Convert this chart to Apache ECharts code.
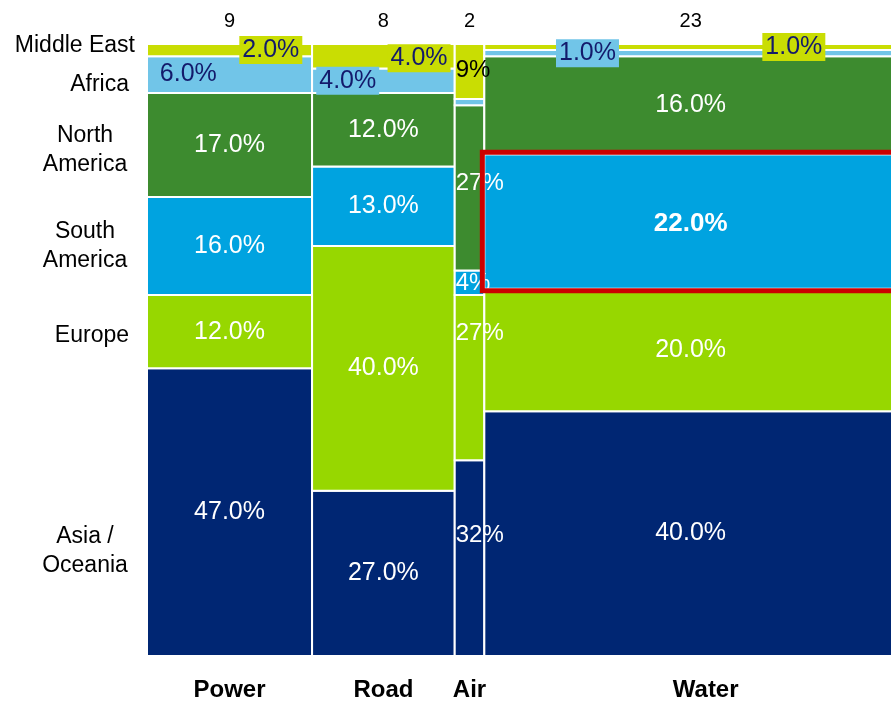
<!DOCTYPE html>
<html>
<head>
<meta charset="UTF-8">
<title>Regional split by sector</title>
<script src="https://cdn.jsdelivr.net/npm/echarts@6/dist/echarts.min.js"></script>
</head>
<body style="margin:0; background:#fff;">
<div id="main" style="width:891px; height:701px;"></div>
<script type="text/javascript">
// sectors (columns), their totals shown on top and the widths
var sectors = ['Power', 'Road', 'Air', 'Water'];
var sectorTotals = [9, 8, 2, 23];
var sectorWidths = [9.2, 7.95, 1.65, 23.0];

// regions, bottom to top
var regions = ['Asia /\nOceania', 'Europe', 'South\nAmerica', 'North\nAmerica', 'Africa', 'Middle East'];
var asiaOceania = [47, 27, 32, 40];
var europe = [12, 40, 27, 20];
var southAmerica = [16, 13, 4, 22];
var northAmerica = [17, 12, 27, 16];
var africa = [6, 4, 1, 1];
var middleEast = [2, 4, 9, 1];

var shares = [asiaOceania, europe, southAmerica, northAmerica, africa, middleEast];
var regionColors = ['#002673', '#97d700', '#00a3e0', '#3d8b2f', '#71c5e8', '#c9dd03'];
var FONT = 'Arial, "Liberation Sans", sans-serif';

// label nudges (px)
var airShift = [-23, -44, 1, -4, 0, -1];
var leftShift = [39, 4, 0, 5, 10, -4];
var bottomShift = [0, 0, 0, 15];

var colStart = [];
var acc = 0;
for (var s = 0; s < sectors.length; s++) {
	colStart.push(acc);
	acc += sectorWidths[s];
}
var totalWidth = acc;

var cells = [];
for (var s = 0; s < sectors.length; s++) {
	var base = 0;
	for (var r = 0; r < regions.length; r++) {
		var v = shares[r][s];
		cells.push([colStart[s], colStart[s] + sectorWidths[s], base, base + v, r, s]);
		base += v;
	}
}

var sectorItems = [];
for (var s = 0; s < sectors.length; s++) {
	sectorItems.push([colStart[s], colStart[s] + sectorWidths[s], sectorTotals[s], s]);
}

var regionItems = [];
var b = 0;
for (var r = 0; r < regions.length; r++) {
	regionItems.push([0, b + shares[r][0] / 2, r]);
	b += shares[r][0];
}

function renderCell(params, api) {
	var x0 = api.value(0), x1 = api.value(1), y0 = api.value(2), y1 = api.value(3);
	var r = api.value(4), s = api.value(5);
	var p0 = api.coord([x0, y1]);
	var p1 = api.coord([x1, y0]);
	var w = p1[0] - p0[0], h = p1[1] - p0[1];
	var children = [{
		type : 'rect',
		z2 : 0,
		shape : { x : p0[0], y : p0[1], width : w, height : h },
		style : { fill : regionColors[r], stroke : '#fff', lineWidth : 2 }
	}];
	var v = shares[r][s];
	var isAir = sectors[s] === 'Air';
	var txt = isAir ? v + '%' : v.toFixed(1) + '%';
	var cy = p0[1] + h / 2;
	if (isAir) {
		if (r !== 4) {
			children.push({
				type : 'text', z2 : 100,
				x : p0[0] + 1, y : cy + airShift[r],
				style : { text : txt, fill : r === 5 ? '#000' : '#fff', font : '24px ' + FONT,
					align : 'left', verticalAlign : 'middle' }
			});
		}
	} else if (r >= 4) {
		children.push({
			type : 'text', z2 : 100,
			x : p0[0] + w * (r === 5 ? 0.75 : 0.25), y : cy + (r === 5 && s === 1 ? 2 : 0),
			style : { text : txt, fill : '#131a6b', font : '25px ' + FONT,
				align : 'center', verticalAlign : 'middle',
				backgroundColor : regionColors[r], padding : [2, 3, 1, 3] }
		});
	} else {
		var hl = (s === 3 && r === 2);
		children.push({
			type : 'text', z2 : 100,
			x : p0[0] + w / 2, y : cy + (hl ? 2 : 0),
			style : { text : txt, fill : '#fff', font : (hl ? 'bold 26px ' : '25px ') + FONT,
				align : 'center', verticalAlign : 'middle' }
		});
	}
	if (s === 3 && r === 2) {
		children.push({
			type : 'rect', z2 : 200,
			shape : { x : p0[0] - 2, y : p0[1] - 2, width : w + 4, height : h + 4 },
			style : { fill : 'none', stroke : '#cc0000', lineWidth : 5 }
		});
	}
	return { type : 'group', children : children };
}

function renderSector(params, api) {
	var mid = (api.value(0) + api.value(1)) / 2;
	var top = api.coord([mid, 100]);
	var bot = api.coord([mid, 0]);
	var s = api.value(3);
	return {
		type : 'group',
		children : [{
			type : 'text',
			x : top[0], y : top[1] - 23,
			style : { text : String(sectorTotals[s]), fill : '#000', font : '20px ' + FONT,
				align : 'center', verticalAlign : 'middle' }
		}, {
			type : 'text',
			x : bot[0] + bottomShift[s], y : bot[1] + 34,
			style : { text : sectors[s], fill : '#000', font : 'bold 24px ' + FONT,
				align : 'center', verticalAlign : 'middle' }
		}]
	};
}

function renderRegion(params, api) {
	var r = api.value(2);
	var p = api.coord([0, api.value(1)]);
	var multi = regions[r].indexOf('\n') >= 0;
	var x = multi ? p[0] - 62 : (r === 5 ? p[0] - 12 : p[0] - 18);
	return {
		type : 'text',
		x : x, y : p[1] + leftShift[r],
		style : { text : regions[r], fill : '#000', font : '23px ' + FONT,
			align : multi ? 'center' : 'right', verticalAlign : 'middle', lineHeight : 29 }
	};
}

var chart = echarts.init(document.getElementById('main'));
chart.setOption({
	animation : false,
	grid : {
		left : 147,
		top : 44,
		right : 0,
		height : 612
	},
	xAxis : {
		type : 'value',
		min : 0,
		// the last column runs a little past the right edge of the picture
		max : totalWidth * 744 / 750,
		axisLine : { show : true, lineStyle : { color : '#000', width : 2 } },
		axisTick : { show : false },
		axisLabel : { show : false },
		splitLine : { show : false }
	},
	yAxis : {
		type : 'value',
		min : 0,
		max : 100,
		show : false
	},
	series : [ {
		type : 'custom',
		renderItem : renderCell,
		encode : { x : [0, 1], y : [2, 3] },
		data : cells,
		clip : false,
		z : 1
	}, {
		type : 'custom',
		renderItem : renderSector,
		encode : { x : [0, 1] },
		data : sectorItems,
		z : 3
	}, {
		type : 'custom',
		renderItem : renderRegion,
		encode : { x : 0, y : 1 },
		data : regionItems,
		z : 3
	} ]
});
</script>
</body>
</html>
